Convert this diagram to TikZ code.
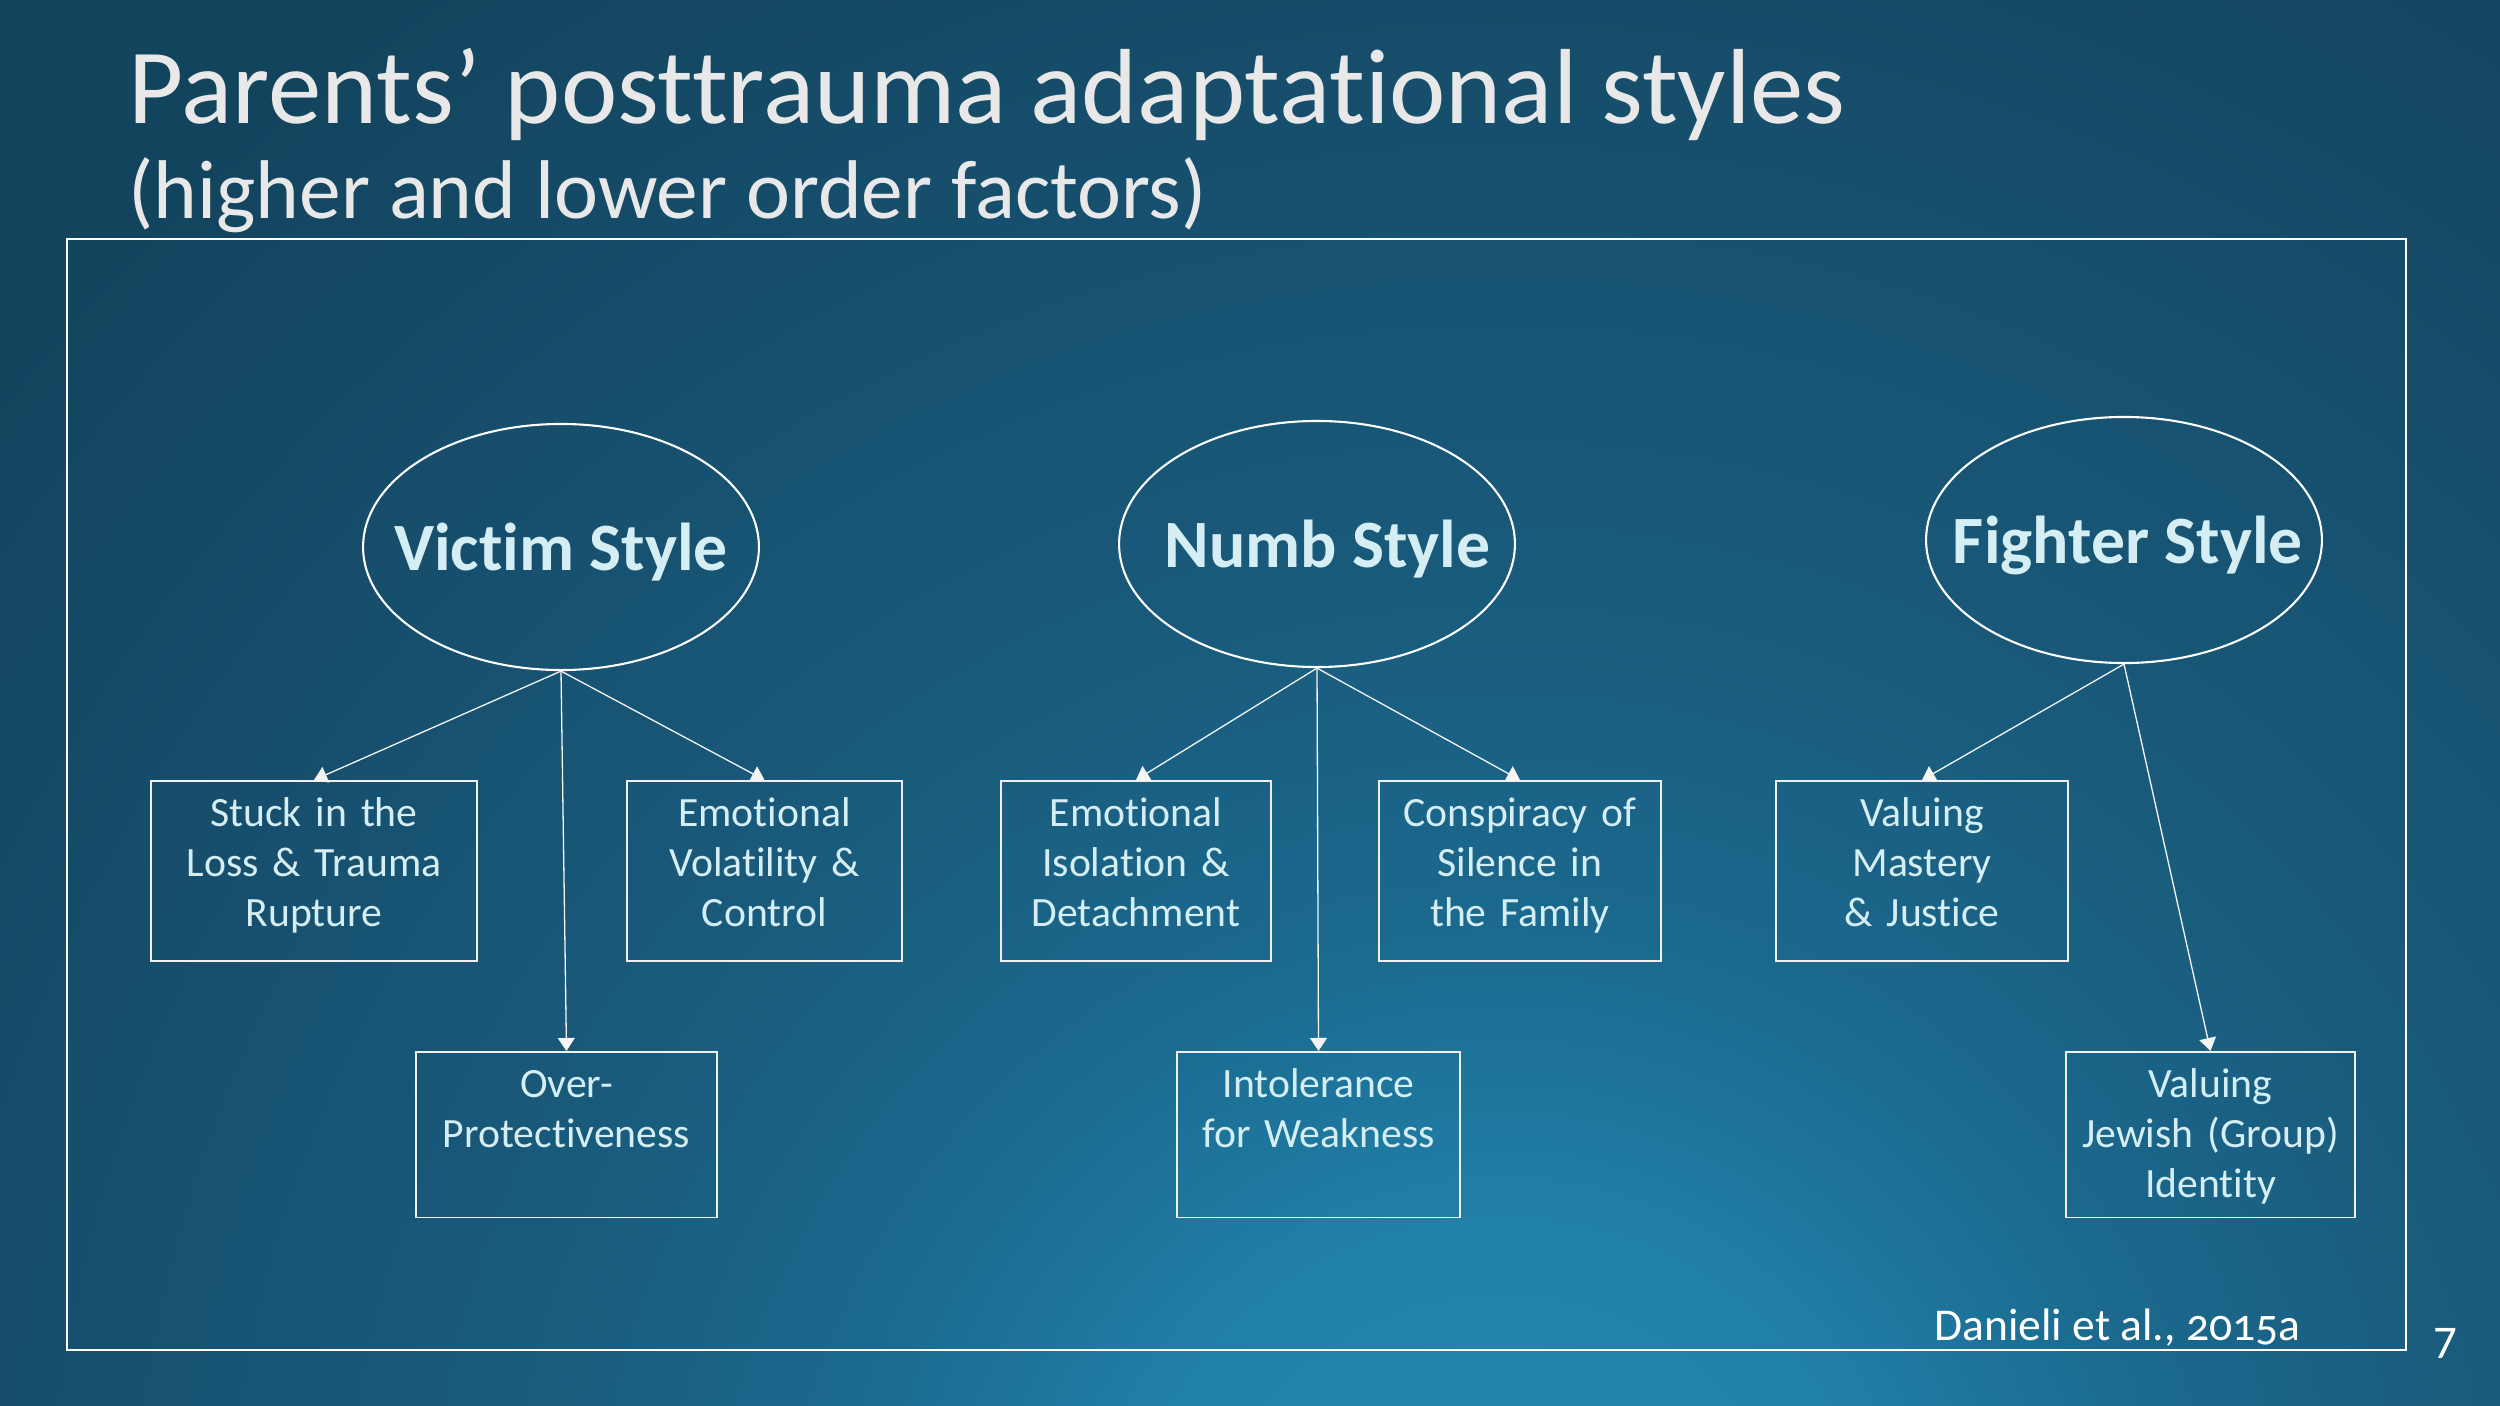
\documentclass[tikz,border=0pt]{standalone}
\usepackage{fontspec}
\setmainfont{Carlito}[Ligatures=NoCommon]
\newfontfamily\factorfont{Carlito}[Ligatures=NoCommon,WordSpace=0.8]
\usetikzlibrary{arrows.meta,positioning,shapes.geometric}
\definecolor{bgdark}{HTML}{11374D}
\definecolor{bgouter}{HTML}{12405A}
\definecolor{bgmidA}{HTML}{13445E}
\definecolor{bgmidB}{HTML}{19597A}
\definecolor{bgmidC}{HTML}{1B6A8F}
\definecolor{bgmidD}{HTML}{2180A8}
\definecolor{bglight}{HTML}{2488B2}
\definecolor{factortext}{HTML}{D4EEF4}
\definecolor{titlegray}{HTML}{E8E8E8}
\pgfdeclareradialshading{slideglow}{\pgfpoint{0bp}{0bp}}{color(0bp)=(bglight); color(4.3bp)=(bgmidD);
    color(7.5bp)=(bgmidC); color(12bp)=(bgmidB); color(22bp)=(bgmidA); color(36bp)=(bgouter);
    color(48bp)=(bgdark); color(50bp)=(bgdark)}
\tikzset{
    stylebubble/.style={ellipse,draw=white,line width=0.8pt,minimum width=152pt,minimum height=94.5pt,inner sep=0pt},
    bubbletext/.style={font=\bfseries\fontsize{26}{31}\selectfont,text=factortext,inner sep=0pt,yshift=-2pt},
    factorbox/.style={draw=white!88!gray,line width=0.6pt,text=factortext,font=\factorfont\fontsize{16}{19.2}\selectfont,
        align=center,inner sep=0pt,text width=#1,text height=17.5pt,anchor=north},
    upperbox/.style={factorbox=#1,text depth=51.6pt},
    lowerbox/.style={factorbox=#1,text depth=46.2pt},
    link/.style={-{Triangle[width=6.5pt,length=5pt]},line width=0.5pt,draw=white!92!gray}
}
\begin{document}
\begin{tikzpicture}[x=0.384pt,y=-0.384pt]

    % slide background
    \useasboundingbox (0,0) rectangle (2500,1406);
    \fill[bgdark] (0,0) rectangle (2500,1406);
    \begin{scope}
        \clip (0,0) rectangle (2500,1406);
        \shade[shading=slideglow] (1500,1600) circle (2200);
    \end{scope}

    \node[anchor=base west,inner sep=0pt,text=titlegray,font=\fontsize{41}{49}\selectfont] (title) at (128,124) {Parents’ posttrauma adaptational styles};
    \node[anchor=base west,inner sep=0pt,text=titlegray,font=\fontsize{32}{38}\selectfont] (subtitle) at (128,218) {(higher and lower order factors)};

    \draw[white,line width=0.75pt] (67,239) rectangle (2406,1350);

    % higher order factors
    \node[stylebubble,label={[bubbletext]center:Victim Style}]               (victim)  at (561,547)  {};
    \node[stylebubble,label={[bubbletext,xshift=4pt]center:Numb Style}]      (numb)    at (1317,544) {};
    \node[stylebubble,label={[bubbletext,xshift=1.5pt]center:Fighter Style}] (fighter) at (2124,540) {};

    % lower order factors
    \node[upperbox=125pt]   (stuck)       at (314,780)    {Stuck in the\\Loss \& Trauma\\Rupture};
    \node[upperbox=105.6pt] (volatility)  at (764.5,780)  {Emotional\\Volatility \&\\Control};
    \node[lowerbox=115.6pt] (overprot)    at (566.5,1051) {Over-\\Protectiveness};

    \node[upperbox=103.7pt] (isolation)   at (1136,780)   {Emotional\\Isolation \&\\Detachment};
    \node[upperbox=108.3pt] (conspiracy)  at (1520,780)   {Conspiracy of\\Silence in\\the Family};
    \node[lowerbox=108.7pt] (intolerance) at (1318.5,1051) {Intolerance\\for Weakness};

    \node[upperbox=112pt]   (mastery)     at (1922,780)   {Valuing\\Mastery\\\& Justice};
    \node[lowerbox=111pt]   (jewish)      at (2210.5,1051) {Valuing\\Jewish (Group)\\Identity};

    \foreach \from/\to in {victim/stuck,victim/volatility,victim/overprot,
                           numb/isolation,numb/conspiracy,numb/intolerance,
                           fighter/mastery,fighter/jewish}
        \draw[link] (\from.south) -- (\to.north);

    \node[anchor=base west,inner sep=0pt,text=white,font=\fontsize{17.5}{21}\selectfont] (cite) at (1934,1340) {Danieli et al., {\addfontfeatures{Numbers=OldStyle}2015a}};
    \node[anchor=base west,inner sep=0pt,text=white,font=\fontsize{18}{22}\selectfont] (page) at (2433,1358) {7};

\end{tikzpicture}
\end{document}
